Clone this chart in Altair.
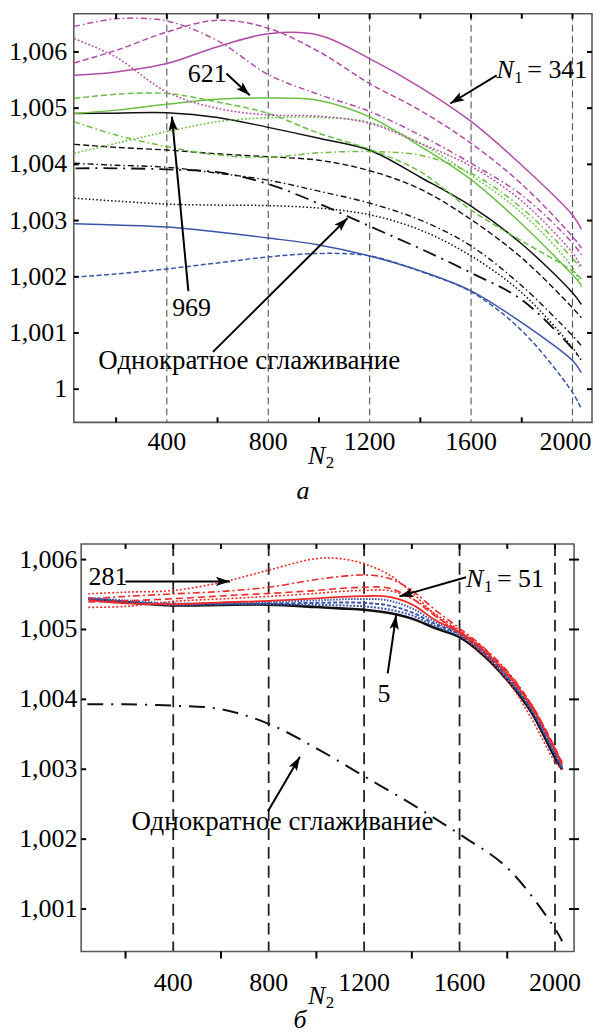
import math
import altair as alt
import pandas as pd

FONT = "Liberation Serif, Times New Roman, Times, serif"
FS = 26

# ------------------------------------------------------------------ data (panel а)
N2_A = [35, 200, 400, 600, 800, 1000, 1200, 1400, 1600, 1800, 2000, 2035]
A_MAG_SOLID = [1.005585, 1.005645, 1.005793, 1.006094, 1.006324, 1.006298, 1.005881, 1.005371, 1.004764, 1.003984, 1.003098, 1.002849]
A_MAG_DASH = [1.005805, 1.006028, 1.006355, 1.006564, 1.006422, 1.006005, 1.005438, 1.004959, 1.004374, 1.003647, 1.002716, 1.002512]
A_MAG_DASHDOT = [1.006454, 1.006590, 1.006550, 1.006200, 1.005598, 1.005243, 1.004942, 1.004516, 1.004020, 1.003452, 1.002601, 1.002388]
A_MAG_DOT = [1.006236, 1.005908, 1.005287, 1.004995, 1.004879, 1.004858, 1.004729, 1.004374, 1.003966, 1.003346, 1.002424, 1.002176]
A_GRN_SOLID = [1.004906, 1.004965, 1.005071, 1.005160, 1.005181, 1.005137, 1.004844, 1.004321, 1.003727, 1.002938, 1.002034, 1.001856]
A_GRN_DASH = [1.005172, 1.005248, 1.005261, 1.005110, 1.004906, 1.004552, 1.004268, 1.003869, 1.003186, 1.002636, 1.002104, 1.001962]
A_GRN_DASHDOT = [1.004759, 1.004521, 1.004316, 1.004167, 1.004126, 1.004206, 1.004227, 1.004161, 1.003842, 1.003222, 1.002330, 1.002140]
A_GRN_DOT = [1.004197, 1.004374, 1.004582, 1.004759, 1.004830, 1.004835, 1.004746, 1.004374, 1.003807, 1.003133, 1.002158, 1.001803]
A_BLK_SOLID = [1.004906, 1.004911, 1.004918, 1.004835, 1.004658, 1.004463, 1.004250, 1.003771, 1.003257, 1.002583, 1.001715, 1.001507]
A_BLK_DASH = [1.004356, 1.004303, 1.004255, 1.004188, 1.004135, 1.004073, 1.003887, 1.003559, 1.003018, 1.002335, 1.001449, 1.001271]
A_BLK_DASHDOT = [1.004020, 1.003984, 1.003949, 1.003843, 1.003718, 1.003523, 1.003310, 1.003009, 1.002548, 1.001839, 1.000952, 1.000775]
A_BLK_DOT = [1.003399, 1.003346, 1.003293, 1.003275, 1.003266, 1.003222, 1.003103, 1.002832, 1.002371, 1.001715, 1.000740, 1.000510]
A_BLU_SOLID = [1.002943, 1.002920, 1.002885, 1.002796, 1.002690, 1.002566, 1.002371, 1.002105, 1.001750, 1.001183, 1.000509, 1.000296]
A_BLU_DASH = [1.001993, 1.002051, 1.002140, 1.002246, 1.002353, 1.002415, 1.002371, 1.002096, 1.001733, 1.001041, 0.999942, 0.999646]

# single smoothing (same curve on both panels)
S_N2 = [40, 200, 400, 600, 800, 1000, 1200, 1400, 1600, 1800, 2000, 2030]
S_VAL = [1.00393, 1.00393, 1.00391, 1.00386, 1.00365, 1.00330, 1.00290, 1.00250, 1.00207, 1.00159, 1.00072, 1.00054]

# ------------------------------------------------------------------ data (panel б)
N2_B = [44, 200, 400, 600, 800, 1000, 1100, 1200, 1300, 1400, 1500, 1600, 1700, 1800, 1900, 2000, 2030]
B_RED_DOT = [1.005511, 1.005534, 1.005558, 1.005672, 1.005850, 1.006014, 1.006014, 1.005939, 1.005793, 1.005530, 1.005202, 1.004932, 1.004647, 1.004276, 1.003735, 1.003108, 1.002994]
B_RED_DASHDOT = [1.005440, 1.005473, 1.005509, 1.005544, 1.005605, 1.005715, 1.005758, 1.005779, 1.005736, 1.005558, 1.005274, 1.005017, 1.004746, 1.004405, 1.003934, 1.003293, 1.003080]
B_RED_DASH = [1.005392, 1.005409, 1.005440, 1.005480, 1.005516, 1.005558, 1.005587, 1.005605, 1.005594, 1.005444, 1.005188, 1.004974, 1.004732, 1.004390, 1.003934, 1.003308, 1.003094]
B_RED_DOT2 = [1.005316, 1.005330, 1.005402, 1.005437, 1.005473, 1.005516, 1.005544, 1.005558, 1.005558, 1.005444, 1.005217, 1.004989, 1.004718, 1.004376, 1.003920, 1.003279, 1.003066]
B_RED_SOLID = [1.005416, 1.005373, 1.005359, 1.005387, 1.005409, 1.005444, 1.005466, 1.005477, 1.005469, 1.005359, 1.005131, 1.004960, 1.004704, 1.004362, 1.003906, 1.003279, 1.003066]
B_BLU_1 = [1.005452, 1.005416, 1.005373, 1.005380, 1.005395, 1.005416, 1.005430, 1.005437, 1.005416, 1.005302, 1.005103, 1.004946, 1.004689, 1.004333, 1.003877, 1.003236, 1.003037]
B_BLU_2 = [1.005444, 1.005402, 1.005359, 1.005366, 1.005373, 1.005380, 1.005387, 1.005380, 1.005345, 1.005245, 1.005074, 1.004932, 1.004675, 1.004319, 1.003863, 1.003222, 1.003023]
B_BLU_3 = [1.005437, 1.005395, 1.005352, 1.005359, 1.005359, 1.005352, 1.005345, 1.005330, 1.005288, 1.005202, 1.005046, 1.004910, 1.004661, 1.004305, 1.003849, 1.003208, 1.003009]
B_BLK_SOLID = [1.005440, 1.005392, 1.005345, 1.005352, 1.005355, 1.005321, 1.005302, 1.005283, 1.005238, 1.005155, 1.005017, 1.004889, 1.004632, 1.004276, 1.003821, 1.003165, 1.002994]

# axes / ticks
X_LABELS = [400, 800, 1200, 1600, 2000]
X_TOP_TICKS = [200, 400, 600, 800, 1000, 1200, 1400, 1600, 1800, 2000]
X_MINOR = [200, 600, 1000, 1400, 1800]
Y_A = [1.000, 1.001, 1.002, 1.003, 1.004, 1.005, 1.006]
Y_B = [1.001, 1.002, 1.003, 1.004, 1.005, 1.006]

# annotations: (x_start, y_start, x_tip, y_tip)
ARROWS_A = [(1701, 1.005585, 1518, 1.005083),
            (635, 1.005615, 727, 1.005230),
            (485, 1.001745, 420, 1.004848),
            (582, 1.000663, 1113, 1.003044)]
ARROWS_B = [(199, 1.005687, 638, 1.005687),
            (1627, 1.005748, 1348, 1.005473),
            (1299, 1.004372, 1334, 1.005202),
            (797, 1.002400, 931, 1.003179)]
TEXT_A = [("621", 483, 1.005473), ("969", 421, 1.001307)]
TEXT_B = [("281", 45, 1.005630), ("5", 1256, 1.003963)]
LONG_A = ("Однократное сглаживание", 130, 1.000355)
LONG_B = ("Однократное сглаживание", 225, 1.002125)
N1_A = ("341", 1700, 1.005544)
N1_B = ("51", 1627, 1.005601)

# ------------------------------------------------------------------ layout
W_A, H_A = 520, 410
XD_A = [33, 2077]
YD_A = [0.99941, 1.00668]
W_B, H_B = 502, 409
XD_B = [-16.9, 2080]
YD_B = [1.000392, 1.006224]
FRAME_B_LEFT = 7.4

MAG, GRN, BLK, BLU, RED = "#B04CA6", "#6CBE45", "#111111", "#3A55A8", "#EE2B2B"

SERIES_A = [
    (N2_A, A_BLU_DASH, BLU, [5, 2.5], 1.5),
    (N2_A, A_BLU_SOLID, BLU, None, 1.5),
    (S_N2, S_VAL, BLK, [14, 6, 2, 6], 1.8),
    (N2_A, A_BLK_DOT, BLK, [1.5, 2.2], 1.5),
    (N2_A, A_BLK_DASHDOT, BLK, [6, 3, 1.5, 3], 1.4),
    (N2_A, A_BLK_DASH, BLK, [6, 3], 1.4),
    (N2_A, A_BLK_SOLID, BLK, None, 1.5),
    (N2_A, A_GRN_DOT, GRN, [1.8, 2], 1.5),
    (N2_A, A_GRN_DASHDOT, GRN, [6, 3, 1.5, 3], 1.5),
    (N2_A, A_GRN_DASH, GRN, [6, 3], 1.5),
    (N2_A, A_GRN_SOLID, GRN, None, 1.5),
    (N2_A, A_MAG_DOT, MAG, [1.8, 2], 1.5),
    (N2_A, A_MAG_DASHDOT, MAG, [6, 3, 1.5, 3], 1.5),
    (N2_A, A_MAG_DASH, MAG, [6, 3], 1.5),
    (N2_A, A_MAG_SOLID, MAG, None, 1.5),
]
SERIES_B = [
    (S_N2, S_VAL, BLK, [16, 8, 2, 8], 2.0),
    (N2_B, B_BLK_SOLID, BLK, None, 2.6),
    (N2_B, B_BLU_3, BLU, [2, 1.5], 2.0),
    (N2_B, B_BLU_2, BLU, [4, 2], 2.0),
    (N2_B, B_BLU_1, BLU, [1.5, 1.5], 2.0),
    (N2_B, B_RED_DOT2, RED, [2, 2], 1.6),
    (N2_B, B_RED_DASH, RED, [7, 4], 1.6),
    (N2_B, B_RED_DASHDOT, RED, [7, 3, 2, 3], 1.6),
    (N2_B, B_RED_DOT, RED, [2, 2], 1.6),
    (N2_B, B_RED_SOLID, RED, None, 1.8),
]

ARROW_PATH = "M0,0L-0.33,1L0,0.78L0.33,1Z"


def ylab(v):
    return "1" if abs(v - 1) < 1e-9 else f"{v:.3f}".replace(".", ",")


def make_panel(series, W, H, xd, yd, yvals, arrows, texts, longtext, n1, label, opts):
    xs = alt.Scale(domain=xd, nice=False, zero=False)
    ys = alt.Scale(domain=yd, nice=False, zero=False)
    X = lambda f: alt.X(f, scale=xs, axis=None)
    Y = lambda f: alt.Y(f, scale=ys, axis=None)
    one = pd.DataFrame({"a": [0]})
    fl = opts["fleft"]

    layers = []
    # grid lines
    layers.append(alt.Chart(pd.DataFrame({"g": X_LABELS})).mark_rule(
        strokeDash=opts["gdash"], color=opts["gcol"], strokeWidth=opts["gw"]
    ).encode(x=X("g:Q"), y=alt.value(0), y2=alt.value(H)))

    # curves
    for (xv, yv, col, dash, w) in series:
        d = pd.DataFrame({"N2": xv, "val": yv})
        kw = dict(color=col, strokeWidth=w, interpolate="catmull-rom")
        if dash:
            kw["strokeDash"] = dash
        layers.append(alt.Chart(d).mark_line(**kw).encode(x=X("N2:Q"), y=Y("val:Q")))

    # frame
    if opts["frame"]:
        layers.append(alt.Chart(one).mark_rect(filled=False, color="#5a5a5a", strokeWidth=1.6).encode(
            x=alt.value(fl), x2=alt.value(W), y=alt.value(0), y2=alt.value(H)))

    # ticks
    tl = 5
    layers.append(alt.Chart(pd.DataFrame({"t": X_TOP_TICKS})).mark_rule(color="black", strokeWidth=2).encode(
        x=X("t:Q"), y=alt.value(0), y2=alt.value(tl)))
    if opts["bottom_out"]:
        layers.append(alt.Chart(pd.DataFrame({"t": X_MINOR})).mark_rule(color="black", strokeWidth=2).encode(
            x=X("t:Q"), y=alt.value(H), y2=alt.value(H + 7)))
    else:
        layers.append(alt.Chart(pd.DataFrame({"t": X_MINOR})).mark_rule(color="black", strokeWidth=2).encode(
            x=X("t:Q"), y=alt.value(H - tl), y2=alt.value(H)))
    layers.append(alt.Chart(pd.DataFrame({"t": yvals})).mark_rule(color="black", strokeWidth=2).encode(
        y=Y("t:Q"), x=alt.value(fl), x2=alt.value(fl + tl)))
    layers.append(alt.Chart(pd.DataFrame({"t": yvals})).mark_rule(color="black", strokeWidth=2).encode(
        y=Y("t:Q"), x=alt.value(W - tl), x2=alt.value(W + opts["rout"])))

    # tick labels
    layers.append(alt.Chart(pd.DataFrame({"t": yvals, "s": [ylab(v) for v in yvals]})).mark_text(
        font=FONT, fontSize=FS, align="right", baseline="middle", color="black").encode(
        y=Y("t:Q"), x=alt.value(fl - opts["ypad"]), text="s:N"))
    main_x = X_LABELS[:-1] if opts["last_dx"] else X_LABELS
    layers.append(alt.Chart(pd.DataFrame({"t": main_x, "s": [str(v) for v in main_x]})).mark_text(
        font=FONT, fontSize=FS, align="center", baseline="alphabetic", color="black").encode(
        x=X("t:Q"), y=alt.value(H + opts["xbase"]), text="s:N"))
    if opts["last_dx"]:
        last = X_LABELS[-1:]
        layers.append(alt.Chart(pd.DataFrame({"t": last, "s": [str(v) for v in last]})).mark_text(
            font=FONT, fontSize=FS, align="center", baseline="alphabetic", color="black",
            dx=opts["last_dx"]).encode(x=X("t:Q"), y=alt.value(H + opts["xbase"]), text="s:N"))

    # arrows
    kx = W / (xd[1] - xd[0])
    ky = H / (yd[1] - yd[0])
    arows = []
    for (x0, y0, x1, y1) in arrows:
        dx = (x1 - x0) * kx
        dy = -(y1 - y0) * ky
        ang = math.degrees(math.atan2(dx, -dy)) % 360
        arows.append({"x": x0, "y": y0, "x2": x1, "y2": y1, "ang": ang})
    adf = pd.DataFrame(arows)
    layers.append(alt.Chart(adf).mark_rule(color="black", strokeWidth=2).encode(
        x=X("x:Q"), y=Y("y:Q"), x2="x2:Q", y2="y2:Q"))
    layers.append(alt.Chart(adf).mark_point(shape=ARROW_PATH, filled=True, size=800, color="black",
                                            opacity=1, strokeWidth=0).encode(
        x=X("x2:Q"), y=Y("y2:Q"), angle=alt.Angle("ang:Q", scale=None)))

    # annotation texts
    tdf = pd.DataFrame([{"t": t, "x": x, "y": y} for (t, x, y) in texts])
    layers.append(alt.Chart(tdf).mark_text(font=FONT, fontSize=FS, align="left", baseline="alphabetic",
                                           color="black").encode(x=X("x:Q"), y=Y("y:Q"), text="t:N"))
    ldf = pd.DataFrame([{"t": longtext[0], "x": longtext[1], "y": longtext[2]}])
    layers.append(alt.Chart(ldf).mark_text(font=FONT, fontSize=27, align="left", baseline="alphabetic",
                                           color="black").encode(x=X("x:Q"), y=Y("y:Q"), text="t:N"))

    n1df = pd.DataFrame([{"t": "= " + n1[0], "x": n1[1], "y": n1[2]}])
    base = alt.Chart(n1df).encode(x=X("x:Q"), y=Y("y:Q"))
    layers.append(base.mark_text(font=FONT, fontSize=FS, fontStyle="italic", align="left",
                                 baseline="alphabetic", color="black", text="N"))
    layers.append(base.mark_text(font=FONT, fontSize=17, align="left", baseline="alphabetic",
                                 color="black", dx=18, dy=5, text="1"))
    layers.append(base.mark_text(font=FONT, fontSize=FS, align="left", baseline="alphabetic",
                                 color="black", dx=31).encode(text="t:N"))

    # axis title N2 and panel letter
    nx, ny = opts["n2pos"]
    layers.append(alt.Chart(one).mark_text(font=FONT, fontSize=FS, fontStyle="italic", align="left",
                                           baseline="alphabetic", color="black", text="N").encode(
        x=alt.value(nx), y=alt.value(ny)))
    layers.append(alt.Chart(one).mark_text(font=FONT, fontSize=17, align="left",
                                           baseline="alphabetic", color="black", text="2").encode(
        x=alt.value(nx + 18), y=alt.value(ny + 4)))
    lx, ly = opts["lblpos"]
    layers.append(alt.Chart(one).mark_text(font=FONT, fontSize=FS, fontStyle="italic", align="center",
                                           baseline="alphabetic", color="black", text=label).encode(
        x=alt.value(lx), y=alt.value(ly)))

    ch = alt.layer(*layers).properties(width=W, height=H)
    if opts["frame"]:
        ch = ch.properties(view=alt.ViewBackground(stroke=None))
    return ch


panel_a = make_panel(SERIES_A, W_A, H_A, XD_A, YD_A, Y_A, ARROWS_A, TEXT_A, LONG_A, N1_A, "а",
                     {"ypad": 6.6, "xbase": 28, "gdash": [7, 4], "gcol": "#555555", "gw": 1.1,
                      "bottom_out": False, "rout": 0, "frame": False, "fleft": 0, "last_dx": -7,
                      "n2pos": (234.9, 451.7), "lblpos": (229.9, 487)})
panel_b = make_panel(SERIES_B, W_B, H_B, XD_B, YD_B, Y_B, ARROWS_B, TEXT_B, LONG_B, N1_B, "б",
                     {"ypad": 3.7, "xbase": 40, "gdash": [12, 7], "gcol": "#222222", "gw": 1.8,
                      "bottom_out": True, "rout": 5, "frame": True, "fleft": FRAME_B_LEFT, "last_dx": 0,
                      "n2pos": (234.9, 461.7), "lblpos": (226.9, 486)})

chart = alt.vconcat(panel_a, panel_b, spacing=38).properties(
    padding={"left": 0, "top": 2, "right": 0, "bottom": 0}
).configure_view(stroke="#5a5a5a", strokeWidth=1.6)

chart.save("out.html", embed_options={"renderer": "svg", "actions": False})
